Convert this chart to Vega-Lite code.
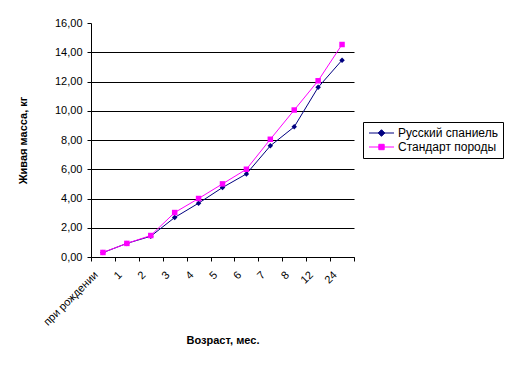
{
  "$schema": "https://vega.github.io/schema/vega-lite/v6.json",
  "width": 263,
  "height": 234,
  "autosize": {"type": "none"},
  "padding": {"left": 91, "top": 23, "right": 155, "bottom": 119},
  "background": "white",
  "config": {
    "view": {"stroke": null},
    "font": "Liberation Sans"
  },
  "data": {
    "values": [
      {"age": "при рождении", "series": "Русский спаниель", "mass": 0.3},
      {"age": "1", "series": "Русский спаниель", "mass": 0.93},
      {"age": "2", "series": "Русский спаниель", "mass": 1.42},
      {"age": "3", "series": "Русский спаниель", "mass": 2.7},
      {"age": "4", "series": "Русский спаниель", "mass": 3.68},
      {"age": "5", "series": "Русский спаниель", "mass": 4.75},
      {"age": "6", "series": "Русский спаниель", "mass": 5.68},
      {"age": "7", "series": "Русский спаниель", "mass": 7.6},
      {"age": "8", "series": "Русский спаниель", "mass": 8.9},
      {"age": "12", "series": "Русский спаниель", "mass": 11.6},
      {"age": "24", "series": "Русский спаниель", "mass": 13.46},
      {"age": "при рождении", "series": "Стандарт породы", "mass": 0.31},
      {"age": "1", "series": "Стандарт породы", "mass": 0.93},
      {"age": "2", "series": "Стандарт породы", "mass": 1.47},
      {"age": "3", "series": "Стандарт породы", "mass": 3.04},
      {"age": "4", "series": "Стандарт породы", "mass": 4.0},
      {"age": "5", "series": "Стандарт породы", "mass": 5.0},
      {"age": "6", "series": "Стандарт породы", "mass": 6.0},
      {"age": "7", "series": "Стандарт породы", "mass": 8.05},
      {"age": "8", "series": "Стандарт породы", "mass": 10.05},
      {"age": "12", "series": "Стандарт породы", "mass": 12.05},
      {"age": "24", "series": "Стандарт породы", "mass": 14.53}
    ]
  },
  "encoding": {
    "x": {
      "field": "age",
      "type": "ordinal",
      "sort": null,
      "scale": {"type": "band", "paddingInner": 0, "paddingOuter": 0},
      "axis": {
        "title": "Возраст, мес.",
        "titleFont": "Liberation Sans",
        "titleFontSize": 11,
        "titleFontWeight": "bold",
        "titleColor": "black",
        "titleY": 83,
        "titleBaseline": "middle",
        "labelAngle": -45,
        "labelAlign": "right",
        "labelBaseline": "middle",
        "labelOffset": -7,
        "labelFont": "Liberation Sans",
        "labelFontSize": 11,
        "labelColor": "black",
        "labelPadding": 12,
        "tickBand": "extent",
        "tickSize": 4,
        "tickColor": "black",
        "domainColor": "black",
        "grid": false,
        "labelOverlap": false
      }
    },
    "y": {
      "field": "mass",
      "type": "quantitative",
      "scale": {"domain": [0, 16], "nice": false, "zero": true},
      "axis": {
        "title": "Живая масса, кг",
        "titleFont": "Liberation Sans",
        "titleFontSize": 11,
        "titleFontWeight": "bold",
        "titleColor": "black",
        "titleX": -68,
        "titleY": 117,
        "titleAngle": -90,
        "titleAlign": "center",
        "titleBaseline": "middle",
        "values": [0, 2, 4, 6, 8, 10, 12, 14, 16],
        "labelExpr": "replace(format(datum.value, '.2f'), '.', ',')",
        "labelFont": "Liberation Sans",
        "labelFontSize": 11,
        "labelColor": "black",
        "labelPadding": 5,
        "tickSize": 4,
        "tickColor": "black",
        "domainColor": "black",
        "grid": true,
        "gridColor": {"condition": {"test": "datum.value === 16", "value": "transparent"}, "value": "black"},
        "gridOpacity": 1,
        "gridWidth": 1
      }
    },
    "color": {
      "field": "series",
      "type": "nominal",
      "scale": {"domain": ["Русский спаниель", "Стандарт породы"], "range": ["#000080", "#FF00FF"]},
      "legend": {
        "title": null,
        "orient": "none",
        "legendX": 272,
        "legendY": 99,
        "strokeColor": "black",
        "padding": 5,
        "labelFont": "Liberation Sans",
        "labelFontSize": 12,
        "labelColor": "black",
        "symbolSize": 100,
        "symbolOffset": 7.5,
        "labelOffset": 10.5,
        "rowPadding": 2,
        "symbolStrokeWidth": 1,
        "encode": {
          "symbols": {
            "update": {
              "shape": {"signal": "datum.value === 'Русский спаниель' ? 'M-2.5,0H2.5M-0.66,0L0,-0.66L0.66,0L0,0.66Z' : 'M-2.5,0H2.5M-0.54,-0.54H0.54V0.54H-0.54Z'"},
              "fill": {"signal": "datum.value === 'Русский спаниель' ? '#000080' : '#FF00FF'"},
              "stroke": {"signal": "datum.value === 'Русский спаниель' ? '#000080' : '#FF00FF'"},
              "opacity": {"value": 1}
            }
          }
        }
      }
    }
  },
  "layer": [
    {"mark": {"type": "line", "strokeWidth": 1}},
    {
      "transform": [{"filter": "datum.series === 'Русский спаниель'"}],
      "mark": {"type": "point", "filled": true, "opacity": 1, "size": 30, "shape": "diamond"}
    },
    {
      "transform": [{"filter": "datum.series === 'Стандарт породы'"}],
      "mark": {"type": "point", "filled": true, "opacity": 1, "size": 30, "shape": "square"}
    }
  ]
}
